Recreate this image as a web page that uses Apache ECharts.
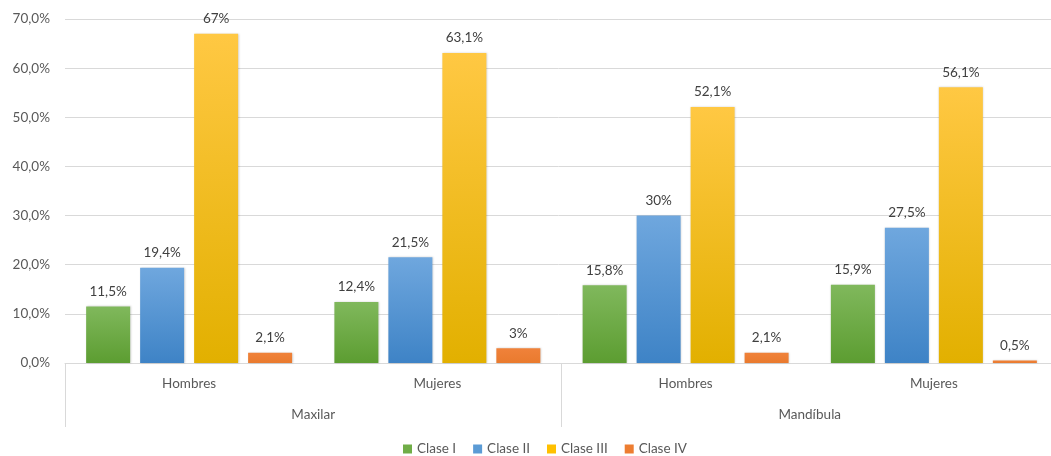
<!DOCTYPE html>
<html>
<head>
<meta charset="utf-8">
<script src="https://cdn.jsdelivr.net/npm/echarts@6/dist/echarts.min.js"></script>
<style>
html,body{margin:0;padding:0;background:#fff;}
#chart{width:1051px;height:456px;}
</style>
</head>
<body>
<div id="chart"></div>
<script>
const subCategories = ['Hombres', 'Mujeres', 'Hombres', 'Mujeres'];
const groupCategories = ['Maxilar', 'Mandíbula'];
const seriesNames = ['Clase I', 'Clase II', 'Clase III', 'Clase IV'];
const claseI = [11.5, 12.4, 15.8, 15.9];
const claseII = [19.4, 21.5, 30, 27.5];
const claseIII = [67, 63.1, 52.1, 56.1];
const claseIV = [2.1, 3, 2.1, 0.5];
const yTicks = [0, 10, 20, 30, 40, 50, 60, 70];

const FONT = 'Lato, "Open Sans", sans-serif';
function grad(top, bottom) {
  return new echarts.graphic.LinearGradient(0, 0, 0, 1, [
    {offset: 0, color: top}, {offset: 1, color: bottom}
  ]);
}
const fills = [
  grad('#80B85C', '#5C9D31'),
  grad('#6FA7DE', '#3E83C6'),
  grad('#FFC843', '#E2B000'),
  grad('#F0823A', '#E97A2E')
];
const legendColors = ['#70AD47', '#5B9BD5', '#FFC000', '#ED7D31'];
const allData = [claseI, claseII, claseIII, claseIV];

const chart = echarts.init(document.getElementById('chart'));
chart.setOption({
  animation: false,
  backgroundColor: '#fff',
  grid: {left: 65, top: 19, right: -7, bottom: 93, containLabel: false, outerBoundsMode: 'none'},
  legend: {
    left: 398, top: 437,
    itemWidth: 9, itemHeight: 9, itemGap: 17,
    icon: 'rect',
    textStyle: {fontFamily: FONT, fontSize: 13.5, color: '#595959', padding: [0, 0, 0, 0]},
    data: seriesNames.map((n, i) => ({name: n, itemStyle: {color: legendColors[i]}}))
  },
  xAxis: [
    {
      type: 'category', data: subCategories, position: 'bottom',
      axisLine: {show: true, lineStyle: {color: '#D9D9D9', width: 1}},
      axisTick: {show: false},
      axisLabel: {fontFamily: FONT, fontSize: 13.5, color: '#595959', margin: 14}
    },
    {
      type: 'category', data: groupCategories, position: 'bottom', offset: 0,
      axisLine: {show: false},
      axisTick: {show: true, length: 64, inside: false, interval: 0, alignWithLabel: false,
        lineStyle: {color: '#D9D9D9', width: 1}},
      axisLabel: {fontFamily: FONT, fontSize: 13.5, color: '#595959', margin: 45}
    }
  ],
  yAxis: {
    type: 'value', min: 0, max: 70, interval: 10,
    axisLine: {show: false}, axisTick: {show: false},
    splitLine: {lineStyle: {color: '#D9D9D9', width: 1}},
    axisLabel: {
      fontFamily: FONT, fontSize: 13.5, color: '#595959', margin: 15,
      formatter: v => yTicks.includes(v) ? v.toFixed(1).replace('.', ',') + '%' : ''
    }
  },
  series: seriesNames.map((name, i) => ({
    name: name, type: 'bar', xAxisIndex: 0,
    data: allData[i],
    barWidth: 44, barGap: '22.7%',
    itemStyle: {color: fills[i], shadowColor: 'rgba(0,0,0,0.18)', shadowBlur: 2, shadowOffsetX: 0.5, shadowOffsetY: 0},
    label: {
      show: true, position: 'top', distance: 8,
      fontFamily: FONT, fontSize: 13.5, color: '#404040',
      formatter: p => String(p.value).replace('.', ',') + '%'
    }
  }))
});
</script>
</body>
</html>
